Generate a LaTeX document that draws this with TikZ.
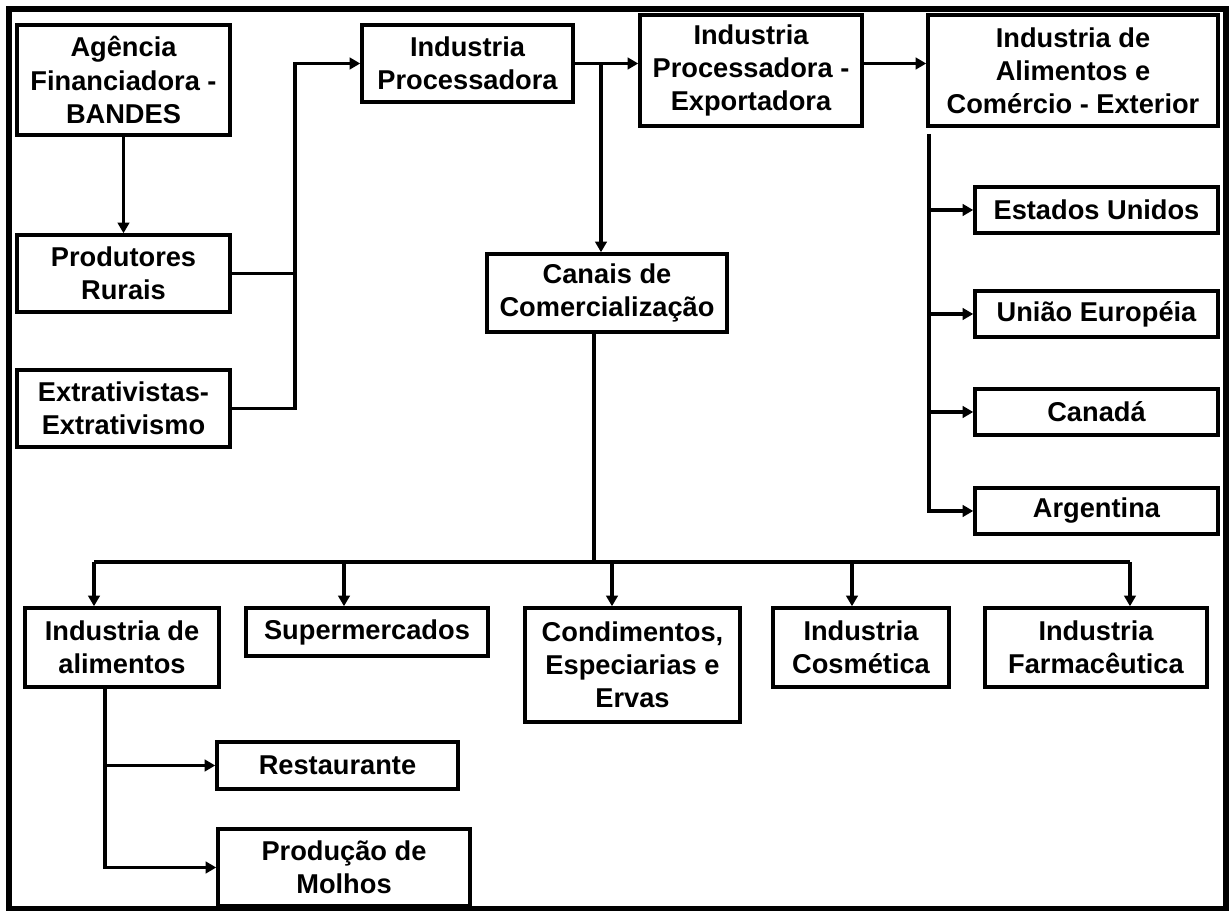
\documentclass[tikz,border=0pt]{standalone}
\usepackage{fontspec}
\setmainfont{Liberation Sans}
\usetikzlibrary{arrows.meta,positioning}

\begin{document}
\begin{tikzpicture}[
    x=0.02cm, y=-0.02cm,
    >={Triangle[length=6pt,width=6.5pt]},
    box/.style={draw, line width=2pt, align=center, inner sep=2pt,
                font=\fontsize{15.5}{18.8}\selectfont\bfseries},
    link/.style={line width=1.8pt}
]
    \useasboundingbox (0,0) rectangle (1232,911);
    \draw[line width=3pt] (9,9) rectangle (1226,909);

    % left column
    \node[box, minimum width=4.26cm, minimum height=2.2cm] (agencia) at (123.5,80) {Agência\\Financiadora -\\BANDES};
    \node[box, minimum width=4.26cm, minimum height=1.54cm] (produtores) at (123.5,273.5) {Produtores\\Rurais};
    \node[box, minimum width=4.26cm, minimum height=1.54cm] (extrativistas) at (123.5,408.5) {Extrativistas-\\Extrativismo};

    % top row
    \node[box, minimum width=4.22cm, minimum height=1.54cm] (processadora) at (467.5,63.5) {Industria\\Processadora};
    \node[box, minimum width=4.44cm, minimum height=2.22cm] (exportadora) at (751,70.5) {Industria\\Processadora -\\Exportadora};
    \node[box, minimum width=5.8cm, minimum height=2.22cm] (exterior) at (1073,70.5) {Industria de\\Alimentos e\\Comércio - Exterior};

    % countries
    \node[box, minimum width=4.86cm, minimum height=0.92cm] (estados) at (1096.5,210) {Estados Unidos};
    \node[box, minimum width=4.86cm, minimum height=0.92cm] (uniao) at (1096.5,314) {União Européia};
    \node[box, minimum width=4.86cm, minimum height=0.92cm] (canada) at (1096.5,412) {Canadá};
    \node[box, minimum width=4.86cm, minimum height=0.92cm] (argentina) at (1096.5,511) {Argentina};

    \node[box, minimum width=4.8cm, minimum height=1.56cm] (canais) at (607,293) {Canais de\\Comercialização};

    % bottom row
    \node[box, minimum width=3.88cm, minimum height=1.58cm] (alimentos) at (122,647.5) {Industria de\\alimentos};
    \node[box, minimum width=4.84cm, minimum height=0.96cm] (super) at (367,632) {Supermercados};
    \node[box, minimum width=4.3cm, minimum height=2.28cm] (condimentos) at (632.5,665) {Condimentos,\\Especiarias e\\Ervas};
    \node[box, minimum width=3.52cm, minimum height=1.58cm] (cosmetica) at (861,647.5) {Industria\\Cosmética};
    \node[box, minimum width=4.44cm, minimum height=1.58cm] (farmaceutica) at (1096,647.5) {Industria\\Farmacêutica};

    \node[box, minimum width=4.82cm, minimum height=0.94cm] (restaurante) at (337.5,765.5) {Restaurante};
    \node[box, minimum width=5.04cm, minimum height=1.54cm] (molhos) at (344,867.5) {Produção de\\Molhos};

    % connectors
    \coordinate (merge) at (295,63.5);
    \coordinate (trunk) at (929,134);
    \coordinate (bus) at (594,562);

    \draw[->, link] (agencia) -- (produtores);
    \draw[link] (produtores.east) -- (produtores.east -| merge);
    \draw[->, link] (extrativistas.east) -| (merge) -- (processadora.west);
    \draw[->, link] (processadora.east) -- (processadora.east -| exportadora.west);
    \draw[->, link] ([xshift=-0.12cm]processadora.east -| canais.north) -- ([xshift=-0.12cm]canais.north);
    \draw[->, link] (processadora.east -| exportadora.east) -- (processadora.east -| exterior.west);

    \draw[->, link] (trunk) |- (argentina.west);
    \foreach \c in {estados,uniao,canada}
        \draw[->, link] (\c.west -| trunk) -- (\c.west);

    \draw[link] ([xshift=-0.26cm]canais.south) -- ([xshift=-0.26cm]canais.south |- bus);
    \draw[link] ([xshift=-0.56cm]alimentos.north |- bus) -- ([xshift=0.68cm]farmaceutica.north |- bus);
    \foreach \b/\dx in {alimentos/-0.56, super/-0.46, condimentos/-0.41, cosmetica/-0.18, farmaceutica/0.68}
        \draw[->, link] ([xshift=\dx cm]\b.north |- bus) -- ([xshift=\dx cm]\b.north);

    \draw[->, link] ([xshift=-0.34cm]alimentos.south) |- (molhos.west);
    \draw[->, link] ([xshift=-0.34cm]alimentos.south |- restaurante.west) -- (restaurante.west);
\end{tikzpicture}
\end{document}
